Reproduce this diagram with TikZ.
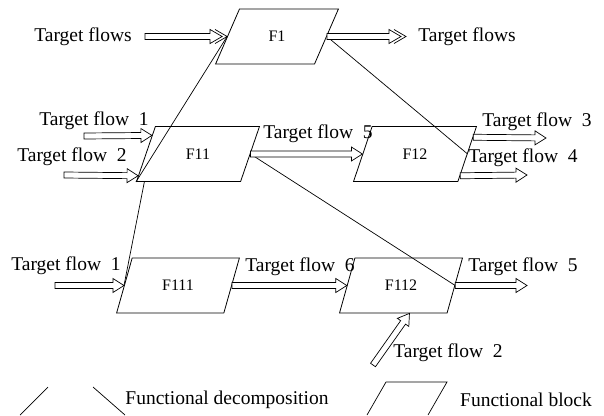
\documentclass[tikz,border=0pt]{standalone}
\usepackage{fontspec}
\setmainfont{Liberation Serif}
\usetikzlibrary{calc,shapes.geometric}
\tikzset{
  block/.style={draw, line width=0.8pt, trapezium, trapezium left angle=63, trapezium right angle=117,
    trapezium stretches=true, minimum width=123pt, minimum height=55pt, inner sep=0pt,
    font=\fontsize{16}{19}\selectfont},
  lbl/.style={font=\fontsize{19.5}{22}\selectfont, inner sep=0pt},
  decomp/.style={draw, line width=0.7pt},
  arrowline/.style={draw, fill=white, line width=0.7pt, line join=miter},
  chevron/.style={draw, line width=0.7pt},
}
\newcommand\flowarrow[2]{%
  \coordinate (fa-h) at ($(#2)!11pt!(#1)$);
  \path[arrowline] ($(#1)!3pt!90:(#2)$) -- ($(fa-h)!3pt!-90:(#1)$) -- ($(fa-h)!7pt!-90:(#1)$) -- (#2)
    -- ($(fa-h)!7pt!90:(#1)$) -- ($(fa-h)!3pt!90:(#1)$) -- ($(#1)!3pt!-90:(#2)$) -- cycle;}
\newcommand\doubleflowarrow[2]{%
  \coordinate (fa-t) at ($(#2)!5pt!(#1)$);
  \coordinate (fa-h) at ($(#2)!17pt!(#1)$);
  \coordinate (fa-g) at ($(#2)!12pt!(#1)$);
  \path[arrowline] ($(#1)!3pt!90:(#2)$) -- ($(fa-h)!3pt!-90:(#1)$) -- ($(fa-h)!7pt!-90:(#1)$) -- (fa-t)
    -- ($(fa-h)!7pt!90:(#1)$) -- ($(fa-h)!3pt!90:(#1)$) -- ($(#1)!3pt!-90:(#2)$) -- cycle;
  \path[chevron] ($(fa-g)!7pt!-90:(#1)$) -- (#2) -- ($(fa-g)!7pt!90:(#1)$);}
\begin{document}
\begin{tikzpicture}[x=1pt, y=-1pt]
\useasboundingbox (0,0) rectangle (604,415);

% functional blocks
\node[block] (F1)   at (277,36.5)  {F1};
\node[block] (F11)  at (198,154)   {F11};
\node[block] (F12)  at (415,154)   {F12};
\node[block] (F111) at (178,285.5) {F111};
\node[block] (F112) at (401,285.5) {F112};

% labels
\node[lbl] (t0l) at (83,37)   {Target flows};
\node[lbl] (t0r) at (467,37)  {Target flows};
\node[lbl] (ta1) at (94,121)  {Target flow\ \ 1};
\node[lbl] (ta2) at (72,157)  {Target flow\ \ 2};
\node[lbl] (t5)  at (318,134) {Target flow\ \ 5};
\node[lbl] (t3)  at (537,122) {Target flow\ \ 3};
\node[lbl] (t4)  at (523,158) {Target flow\ \ 4};
\node[lbl] (tb1) at (66,266)  {Target flow\ \ 1};
\node[lbl] (t6)  at (300,267) {Target flow\ \ 6};
\node[lbl] (t5b) at (523,267) {Target flow\ \ 5};
\node[lbl] (t2b) at (448,353) {Target flow\ \ 2};
\node[lbl] (lg1) at (227,400) {Functional decomposition};
\node[lbl] (lg2) at (526,400) {Functional block};

% decomposition lines
\coordinate (F11b) at ($(F11.bottom left corner)!0.08!(F11.bottom right corner)$);
\draw[decomp] (F1.left side) -- (F11.bottom left corner);
\draw[decomp] (F1.right side) -- (F12.right side);
\draw[decomp] (F11b) -- (F111.left side);
\draw[decomp] (F11.right side) -- (F112.right side);

% arrow end points
\coordinate (a0s) at (145,36.5);
\coordinate (a0e) at (406,36.5);
\coordinate (a1s) at (84,136);
\coordinate (a1e) at ($(F11.bottom left corner)!0.833!(F11.top left corner)$);
\coordinate (a2s) at (64,175);
\coordinate (a2e) at ($(F11.bottom left corner)!0.11!(F11.top left corner)$);
\coordinate (a3s) at ($(F12.bottom right corner)!0.8!(F12.top right corner)$);
\coordinate (a3e) at (546,138);
\coordinate (a4s) at ($(F12.bottom right corner)!0.11!(F12.top right corner)$);
\coordinate (a4e) at (527,175);
\coordinate (b1s) at (55,285.5);
\coordinate (b5e) at (527,285.5);
\coordinate (b2s) at (373,365);
\coordinate (b2e) at ($(F112.bottom left corner)!0.65!(F112.bottom right corner)$);

% flows
\doubleflowarrow{a0s}{F1.left side}
\doubleflowarrow{F1.right side}{a0e}
\flowarrow{a1s}{a1e}
\flowarrow{a2s}{a2e}
\flowarrow{F11.right side}{F12.left side}
\flowarrow{a3s}{a3e}
\flowarrow{a4s}{a4e}
\flowarrow{b1s}{F111.left side}
\flowarrow{F111.right side}{F112.left side}
\flowarrow{F112.right side}{b5e}
\flowarrow{b2s}{b2e}

% legend
\coordinate (l1a) at (20,415);
\coordinate (l1b) at (48,387);
\coordinate (l2a) at (93,387);
\coordinate (l2b) at (125,415);
\draw[decomp] (l1a) -- (l1b);
\draw[decomp] (l2a) -- (l2b);
\coordinate (lp1) at (367,415);
\coordinate (lp2) at (386,382);
\coordinate (lp3) at (447,382);
\coordinate (lp4) at (428,415);
\draw[decomp] (lp1) -- (lp2) -- (lp3) -- (lp4);
\end{tikzpicture}
\end{document}
